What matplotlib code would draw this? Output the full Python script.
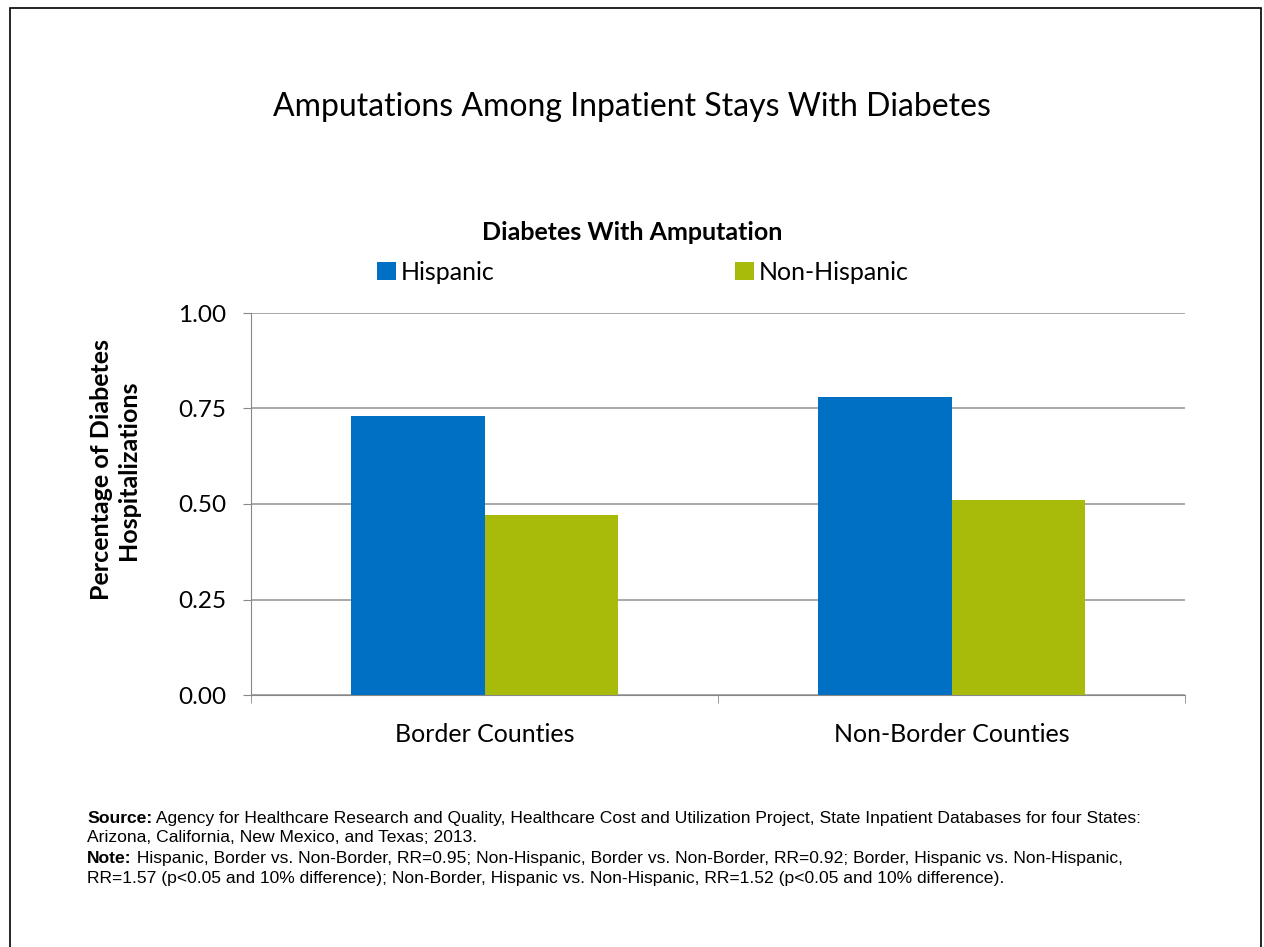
import numpy as np
import matplotlib.pyplot as plt
from matplotlib.patches import Rectangle

categories = ["Border Counties", "Non-Border Counties"]
series_names = ["Hispanic", "Non-Hispanic"]
hispanic = [0.73, 0.78]
non_hispanic = [0.47, 0.51]
yticks = [0.00, 0.25, 0.50, 0.75, 1.00]

colors = ["#0070C4", "#A9BB0A"]
font = ["Lato", "DejaVu Sans"]
ff = "Liberation Sans"

W, H = 1264, 947
fig = plt.figure(figsize=(W / 100, H / 100), dpi=100)
fig.patches.append(Rectangle((0.008, -0.01), 0.99, 1.002, transform=fig.transFigure,
                             fill=False, edgecolor="black", linewidth=1.2))

ax = fig.add_axes([251 / W, 1 - 695 / H, (1185 - 251) / W, (695 - 313) / H])

x = np.arange(len(categories))
bw = 0.285
ax.bar(x - bw / 2, hispanic, bw, color=colors[0], label=series_names[0])
ax.bar(x + bw / 2, non_hispanic, bw, color=colors[1], label=series_names[1])

ax.set_xlim(-0.5, 1.5)
ax.set_ylim(0, 1.0)
ax.set_yticks(yticks)
ax.set_yticklabels([f"{v:.2f}" for v in yticks], fontsize=17.5, family=font)
ax.set_xticks(x)
ax.set_xticklabels(categories, fontsize=18, family=font)
ax.set_xticks([-0.5, 0.5, 1.5], minor=True)
ax.tick_params(axis="x", which="major", length=0, pad=20)
ax.tick_params(axis="x", which="minor", length=6, color="#888888", direction="out")
ax.tick_params(axis="y", length=6, color="#888888", pad=12)
ax.grid(axis="y", color="#999999", linewidth=1.2)
ax.set_axisbelow(True)
for s in ["top", "right"]:
    ax.spines[s].set_visible(False)
for s in ["left", "bottom"]:
    ax.spines[s].set_color("#888888")

fig.text(115 / W, 1 - 470 / H, "Percentage of Diabetes\nHospitalizations", rotation=90,
         ha="center", va="center", multialignment="center", fontsize=18,
         fontweight="bold", family=font, linespacing=1.25)

fig.text(0.5, 1 - 107 / H, "Amputations Among Inpatient Stays With Diabetes",
         ha="center", va="center", fontsize=23, family=font)
fig.text(0.5, 1 - 232 / H, "Diabetes With Amputation", ha="center", va="center",
         fontsize=18, fontweight="bold", family=font)

handles, labels = ax.get_legend_handles_labels()
fig.legend(handles, labels, loc="center left", bbox_to_anchor=(377 / W, 1 - 272 / H), ncol=2,
           frameon=False, prop={"family": font, "size": 18}, handlelength=0.76,
           handleheight=0.76, handletextpad=0.2, columnspacing=9.6, borderpad=0,
           borderaxespad=0)

# footnote: bold lead word then plain text on the same line
fs = 12.6
fx = 87 / W
lines = [
    ("Source:", " Agency for Healthcare Research and Quality, Healthcare Cost and Utilization Project, State Inpatient Databases for four States:"),
    ("", "Arizona, California, New Mexico, and Texas; 2013."),
    ("Note:", " Hispanic, Border vs. Non-Border, RR=0.95; Non-Hispanic, Border vs. Non-Border, RR=0.92; Border, Hispanic vs. Non-Hispanic,"),
    ("", "RR=1.57 (p<0.05 and 10% difference); Non-Border, Hispanic vs. Non-Hispanic, RR=1.52 (p<0.05 and 10% difference)."),
]
renderer = fig.canvas.get_renderer()
for i, (lead, rest) in enumerate(lines):
    y = 1 - (818 + 20 * i) / H
    xx = fx
    if lead:
        t = fig.text(xx, y, lead, fontsize=fs, fontweight="bold", family=ff, va="center")
        bb = t.get_window_extent(renderer)
        xx = bb.x1 / W
    fig.text(xx, y, rest, fontsize=fs, family=ff, va="center")

fig.savefig("out.png", dpi=100)
